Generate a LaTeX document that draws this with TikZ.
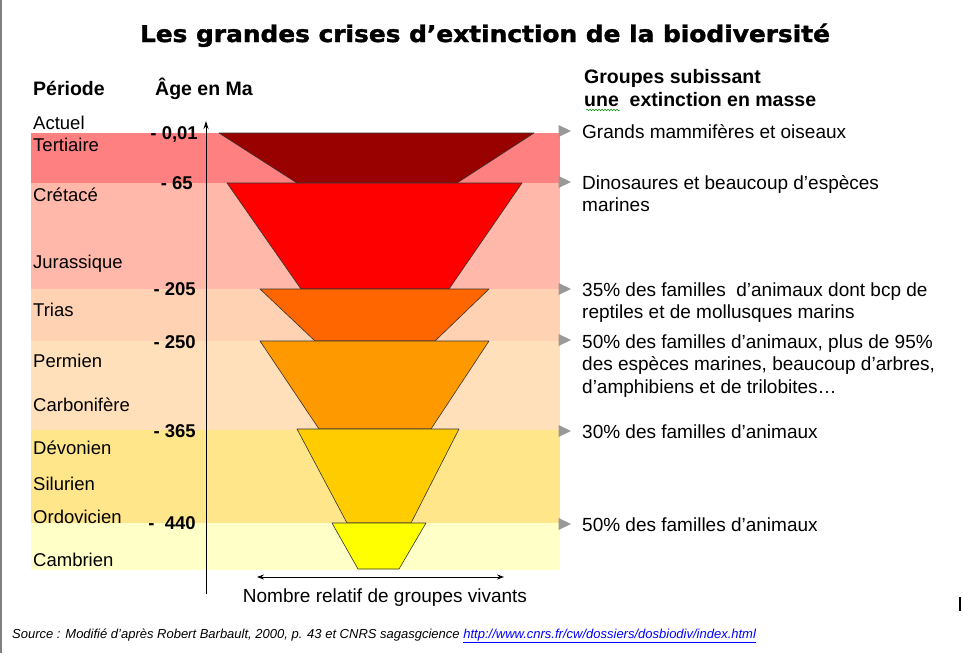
\documentclass[tikz,border=0pt]{standalone}
\usepackage{fontspec}
\setmainfont{Liberation Sans}
\newfontfamily\titlefont[BoldFeatures={FakeBold=1.6}]{DejaVu Sans}
\usetikzlibrary{arrows.meta, positioning, shapes.geometric, decorations.pathmorphing}
\definecolor{bandtert}{HTML}{FF8080}
\definecolor{bandjura}{HTML}{FFB8A9}
\definecolor{bandtrias}{HTML}{FFD2B3}
\definecolor{bandperm}{HTML}{FFE0BA}
\definecolor{banddevo}{HTML}{FFE68B}
\definecolor{bandcamb}{HTML}{FFFFC8}
\definecolor{crisetert}{HTML}{990000}
\definecolor{crisecret}{HTML}{FF0000}
\definecolor{crisetrias}{HTML}{FF6600}
\definecolor{criseperm}{HTML}{FF9900}
\definecolor{crisedevo}{HTML}{FFCC00}
\definecolor{criseordo}{HTML}{FFFF00}
\definecolor{pucegris}{HTML}{999999}
\definecolor{lien}{HTML}{0000FF}

\begin{document}
\begin{tikzpicture}[
  x=1pt, y=-1pt,
  titre/.style={font=\titlefont\fontsize{23}{27}\selectfont\bfseries, inner sep=0pt,
    anchor=base, xscale=1.08, transform shape},
  hdr/.style={font=\fontsize{19.5}{23}\selectfont\bfseries, inner sep=0pt, anchor=base west},
  per/.style={font=\fontsize{18.5}{22.5}\selectfont, inner sep=0pt, anchor=base west},
  age/.style={font=\fontsize{18.5}{22}\selectfont\bfseries, inner sep=0pt, anchor=base east},
  grp/.style={font=\fontsize{19}{22.5}\selectfont, inner sep=0pt, anchor=base west, align=left},
  crise/.style={draw=black!80, line width=0.6pt, line join=round},
  puce/.style={fill=pucegris},
  axe/.style={-{Stealth[length=8pt, width=5pt]}, line width=0.8pt},
  dbl/.style={{Stealth[length=7pt, width=5pt]}-{Stealth[length=7pt, width=5pt]}, line width=0.8pt},
]
  \useasboundingbox (0,0) rectangle (963,653);
  \fill[white] (0,0) rectangle (963,653);
  \draw[gray, line width=1.5pt] (1,0) -- (1,653);

  %% ─── TITLE / HEADERS ────────────────────────────────────────────────
  \node[titre] (titre) at (485,42) {Les grandes crises d’extinction de la biodiversité};
  \node[hdr] (hper) at (33,95) {Période};
  \node[hdr] (hage) at (155,95) {Âge en Ma};
  \node[hdr] (hgrp) at (584,83) {Groupes subissant};
  \node[hdr] (hgrp2) at (584,106) {une\ \ extinction en masse};
  \draw[green!55!black, line width=0.5pt, decorate,
        decoration={snake, amplitude=0.8pt, segment length=3pt}]
    (586,110) -- (620,110);

  %% ─── BANDS ──────────────────────────────────────────────────────────
  \foreach \ya/\yb/\coul in {133/183/bandtert, 183/289/bandjura,
      289/341/bandtrias, 341/430/bandperm, 430/523/banddevo, 523/570/bandcamb}
    \fill[\coul] (31,\ya) rectangle (560,\yb);

  %% Periods
  \foreach \y/\n/\nom in {129.5/Actuel/act, 151.5/Tertiaire/ter, 201.5/Crétacé/cre,
      268.5/Jurassique/jur, 316.5/Trias/tri, 367.5/Permien/per, 411.5/Carbonifère/car,
      454.5/Dévonien/dev, 490.5/Silurien/sil, 523.5/Ordovicien/ord, 566.5/Cambrien/cam}
    \node[per] (p-\nom) at (33,\y) {\n};

  %% Ages
  \node[age] (a1) at (198,139.5) {- 0,01};
  \node[age] (a2) at (193,189.5) {- 65};
  \node[age] (a3) at (196,295.5) {- 205};
  \node[age] (a4) at (196,348) {- 250};
  \node[age] (a5) at (196,437.5) {- 365};
  \node[age] (a6) at (196,529.5) {-\ \ 440};

  %% ─── CRISES (trapezes) ──────────────────────────────────────────────
  \foreach \ya/\yb/\xa/\xb/\xc/\xd/\coul in {
      133/183/219/534/297/457/crisetert,
      183/289/227/522/301/449/crisecret,
      289/341/260/489/315/435/crisetrias,
      341/429/260/489/319/431/criseperm,
      429/523/297/459/347/411/crisedevo,
      523/569/332/426/358/399/criseordo}
    \filldraw[crise, fill=\coul] (\xa,\ya) -- (\xb,\ya) -- (\xd,\yb) -- (\xc,\yb) -- cycle;

  %% Axes
  \coordinate (axebas) at (206,594);
  \coordinate (axehaut) at (206,121);
  \draw[axe] (axebas) -- (axehaut);
  \coordinate (flg) at (257,577);
  \coordinate (fld) at (504,577);
  \draw[dbl] (flg) -- (fld);
  \node[grp, anchor=base] (nombre) at (385,602) {Nombre relatif de groupes vivants};

  %% ─── GROUPES ────────────────────────────────────────────────────────
  \foreach \y in {131, 182, 289, 340, 431, 524}
    \fill[puce] (558.5,\y-6) -- (571,\y) -- (558.5,\y+6) -- cycle;

  % multi-line nodes sit on their last baseline
  \node[grp] (g1) at (582,138) {Grands mammifères et oiseaux};
  \node[grp] (g2) at (582,211.5) {Dinosaures et beaucoup d’espèces\\marines};
  \node[grp] (g3) at (582,318.5) {35\% des familles\ \ d’animaux dont bcp de\\reptiles et de mollusques marins};
  \node[grp] (g4) at (582,393) {50\% des familles d’animaux, plus de 95\%\\des espèces marines, beaucoup d’arbres,\\d’amphibiens et de trilobites…};
  \node[grp] (g5) at (582,438) {30\% des familles d’animaux};
  \node[grp] (g6) at (582,531) {50\% des familles d’animaux};

  %% Source
  \node[inner sep=0pt, anchor=base west, font=\fontsize{13}{15}\selectfont\itshape] (source) at (12,638)
    {Source : Modifié d’après Robert Barbault, 2000, p. 43 et CNRS sagasgcience
     \textcolor{lien}{\underline{http://www.cnrs.fr/cw/dossiers/dosbiodiv/index.html}}};
  \draw[line width=1.2pt] (960,597) -- (960,611);
\end{tikzpicture}
\end{document}
